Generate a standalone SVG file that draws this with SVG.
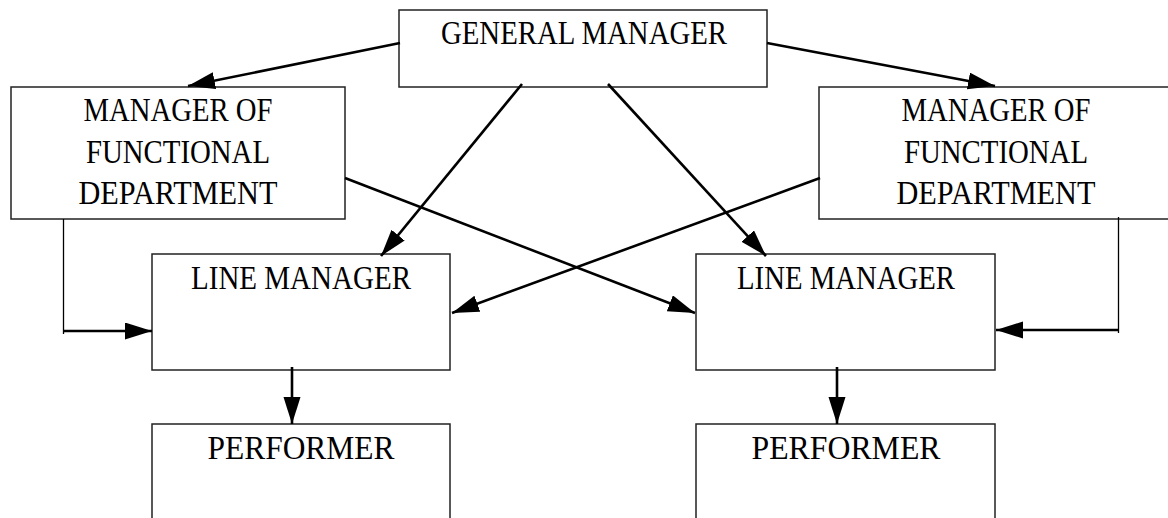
<svg xmlns="http://www.w3.org/2000/svg" width="1168" height="518" viewBox="0 0 1168 518">
<style>
.box{fill:#fff;stroke:#222;stroke-width:1.5}
.t{font-family:"Liberation Serif","Times New Roman",serif;font-size:33px;fill:#000;text-anchor:middle}
.c{stroke:#000;stroke-width:2.6;fill:none}
.thin{stroke:#000;stroke-width:1.3;fill:none}
</style>
<defs>
<marker id="ah" markerUnits="userSpaceOnUse" markerWidth="30" markerHeight="20" refX="27" refY="8.5" orient="auto">
<path d="M0,0 L27,8.5 L0,17 z" fill="#000"/>
</marker>
</defs>
<rect width="1168" height="518" fill="#fff"/>
<g id="gm">
<rect class="box" x="399" y="10" width="368" height="77"/>
<text class="t" x="584" y="44" textLength="286" lengthAdjust="spacingAndGlyphs">GENERAL MANAGER</text>
</g>
<g id="mfd-left">
<rect class="box" x="11" y="87" width="334" height="132"/>
<text class="t" x="178" y="121" textLength="189" lengthAdjust="spacingAndGlyphs">MANAGER OF</text>
<text class="t" x="178" y="163" textLength="184" lengthAdjust="spacingAndGlyphs">FUNCTIONAL</text>
<text class="t" x="178" y="204" textLength="199" lengthAdjust="spacingAndGlyphs">DEPARTMENT</text>
</g>
<g id="mfd-right">
<rect class="box" x="819" y="87" width="356" height="132"/>
<text class="t" x="996" y="121" textLength="189" lengthAdjust="spacingAndGlyphs">MANAGER OF</text>
<text class="t" x="996" y="163" textLength="184" lengthAdjust="spacingAndGlyphs">FUNCTIONAL</text>
<text class="t" x="996" y="204" textLength="199" lengthAdjust="spacingAndGlyphs">DEPARTMENT</text>
</g>
<g id="lm-left">
<rect class="box" x="152" y="254" width="298" height="116"/>
<text class="t" x="301" y="289" textLength="220" lengthAdjust="spacingAndGlyphs">LINE MANAGER</text>
</g>
<g id="lm-right">
<rect class="box" x="696" y="254" width="299" height="116"/>
<text class="t" x="846" y="289" textLength="218" lengthAdjust="spacingAndGlyphs">LINE MANAGER</text>
</g>
<g id="perf-left">
<rect class="box" x="152" y="424" width="298" height="110"/>
<text class="t" x="301" y="459" textLength="187" lengthAdjust="spacingAndGlyphs">PERFORMER</text>
</g>
<g id="perf-right">
<rect class="box" x="696" y="424" width="299" height="110"/>
<text class="t" x="846" y="459" textLength="189" lengthAdjust="spacingAndGlyphs">PERFORMER</text>
</g>
<g id="connectors">
<line class="c" x1="400" y1="43" x2="188" y2="86" marker-end="url(#ah)"/>
<line class="c" x1="767" y1="43" x2="995" y2="86" marker-end="url(#ah)"/>
<line class="c" x1="522" y1="84" x2="381" y2="256" marker-end="url(#ah)"/>
<line class="c" x1="608" y1="84" x2="766" y2="256" marker-end="url(#ah)"/>
<line class="c" x1="345" y1="178" x2="695" y2="313" marker-end="url(#ah)"/>
<line class="c" x1="820" y1="178" x2="452" y2="313" marker-end="url(#ah)"/>
<line class="thin" x1="63.5" y1="219" x2="63.5" y2="334"/>
<line class="c" x1="63" y1="331" x2="152" y2="331" marker-end="url(#ah)"/>
<line class="thin" x1="1118.5" y1="217" x2="1118.5" y2="333"/>
<line class="c" x1="1119" y1="330" x2="996" y2="330" marker-end="url(#ah)"/>
<line class="c" x1="292" y1="367" x2="292" y2="424" marker-end="url(#ah)"/>
<line class="c" x1="837" y1="367" x2="837" y2="424" marker-end="url(#ah)"/>
</g>
</svg>
